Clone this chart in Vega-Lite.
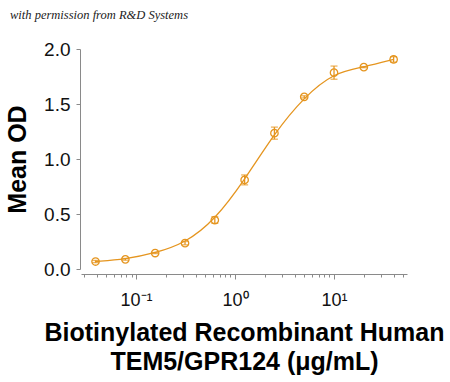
{
  "$schema": "https://vega.github.io/schema/vega-lite/v6.json",
  "autosize": "none",
  "width": 326,
  "height": 220,
  "padding": {"left": 81, "top": 49, "right": 43, "bottom": 113},
  "background": "white",
  "title": {
    "text": "with permission from R&D Systems",
    "anchor": "start",
    "frame": "group",
    "dx": -71,
    "offset": 19,
    "font": "Liberation Serif",
    "fontStyle": "italic",
    "fontWeight": "normal",
    "fontSize": 12.5,
    "color": "#222222"
  },
  "config": {
    "view": {"stroke": null},
    "axis": {"grid": false, "domainColor": "#8a8a8a", "tickColor": "#8a8a8a", "labelColor": "#111111", "titleColor": "#000000", "labelFont": "Liberation Sans", "titleFont": "Liberation Sans"}
  },
  "data": {
    "values": [
      {"conc": 0.039, "od": 0.068, "lo": 0.058, "hi": 0.078},
      {"conc": 0.078, "od": 0.088, "lo": 0.080, "hi": 0.096},
      {"conc": 0.156, "od": 0.145, "lo": 0.140, "hi": 0.150},
      {"conc": 0.3125, "od": 0.235, "lo": 0.220, "hi": 0.250},
      {"conc": 0.625, "od": 0.445, "lo": 0.415, "hi": 0.475},
      {"conc": 1.25, "od": 0.81, "lo": 0.765, "hi": 0.855},
      {"conc": 2.5, "od": 1.235, "lo": 1.18, "hi": 1.29},
      {"conc": 5, "od": 1.565, "lo": 1.555, "hi": 1.575},
      {"conc": 10, "od": 1.785, "lo": 1.725, "hi": 1.845},
      {"conc": 20, "od": 1.835, "lo": 1.83, "hi": 1.84},
      {"conc": 40, "od": 1.905, "lo": 1.88, "hi": 1.93}
    ]
  },
  "encoding": {
    "x": {
      "field": "conc", "type": "quantitative",
      "scale": {"type": "log", "domain": [0.0278, 54.6], "nice": false},
      "axis": {
        "offset": 5,
        "values": [0.03,0.04,0.05,0.06,0.07,0.08,0.09,0.1,0.2,0.3,0.4,0.5,0.6,0.7,0.8,0.9,1,2,3,4,5,6,7,8,9,10,20,30,40,50],
        "labelExpr": "datum.value == 0.1 ? '10⁻¹' : datum.value == 1 ? '10⁰' : datum.value == 10 ? '10¹' : ''",
        "tickSize": {"condition": {"test": "datum.value == 0.1 || datum.value == 1 || datum.value == 10", "value": 5}, "value": 3},
        "labelFontSize": 18,
        "labelPadding": 12,
        "labelFlush": false,
        "labelOverlap": false,
        "title": ["Biotinylated Recombinant Human", "TEM5/GPR124 (μg/mL)"],
        "titleFontSize": 25,
        "titleFontWeight": "bold",
        "titleLineHeight": 29,
        "titlePadding": 11
      }
    },
    "y": {
      "field": "od", "type": "quantitative",
      "scale": {"domain": [0, 2], "nice": false},
      "axis": {
        "offset": 1,
        "values": [0, 0.5, 1, 1.5, 2],
        "format": ".1f",
        "tickSize": 4,
        "labelFontSize": 19,
        "labelPadding": 6,
        "title": "Mean OD",
        "titleFontSize": 25,
        "titleFontWeight": "bold",
        "titlePadding": 13
      }
    }
  },
  "layer": [
    {
      "mark": {"type": "line", "interpolate": "basis", "color": "#E5951F", "strokeWidth": 1.3}
    },
    {
      "mark": {"type": "errorbar", "ticks": {"size": 7, "color": "#E5951F"}, "rule": {"color": "#E5951F", "strokeWidth": 1.3}, "color": "#E5951F", "thickness": 1.3},
      "encoding": {
        "y": {"field": "lo", "type": "quantitative"},
        "y2": {"field": "hi"}
      }
    },
    {
      "mark": {"type": "point", "shape": "circle", "filled": false, "size": 55, "stroke": "#E5951F", "strokeWidth": 1.3, "fill": "white", "fillOpacity": 0}
    }
  ]
}
